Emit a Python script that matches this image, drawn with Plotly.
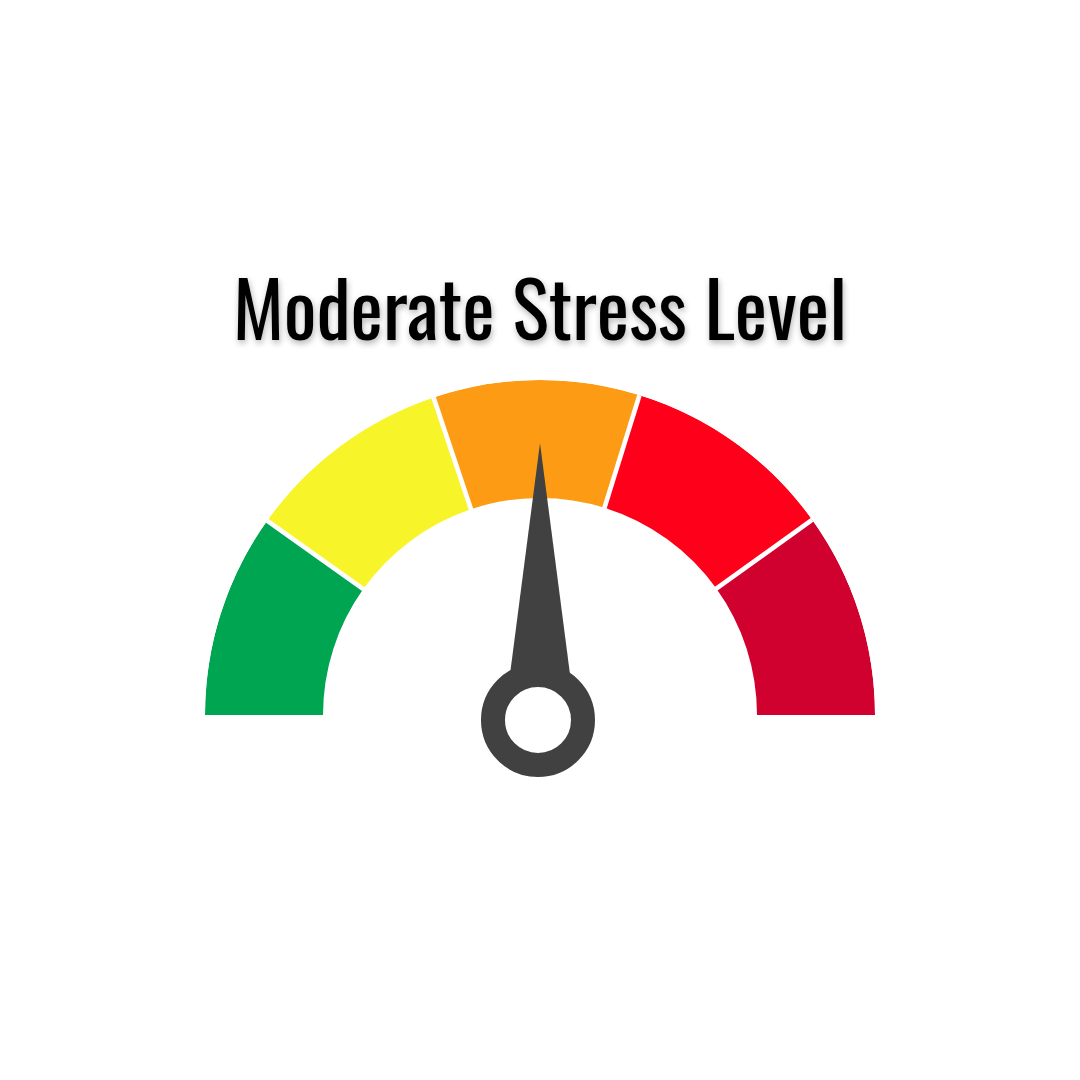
import plotly.graph_objects as go

# ---- data ----
title_text = "Moderate Stress Level"
band_names = ["Low", "Mild", "Moderate", "High", "Severe"]
band_starts = [0, 19.7, 39.7, 59.6, 80.2]
band_ends = [19.7, 39.7, 59.6, 80.2, 100]
band_colors = ["#00A551", "#F7F52A", "#FD9C14", "#FF001A", "#D0002F"]
needle_value = 50
gauge_min, gauge_max = 0, 100

# ---- style constants ----
W = H = 1080
R_OUT = 335          # outer radius (px = radial axis units)
R_IN = 217           # inner radius
CX, CY = 540, 715    # pivot position (px from left / top)
NEEDLE_LEN = 272
NEEDLE_BASE_R = 50
NEEDLE_HALF_ANGLE = 37
HUB_OFFSET_R, HUB_OFFSET_THETA = 5.4, 291.8   # hub sits slightly below-left of pivot
DARK = "#414141"


def to_theta(v):
    return (v - gauge_min) / (gauge_max - gauge_min) * 180.0


fig = go.Figure()

# coloured bands
fig.add_trace(go.Barpolar(
    r=[R_OUT - R_IN] * len(band_names),
    base=[R_IN] * len(band_names),
    theta=[to_theta((s + e) / 2) for s, e in zip(band_starts, band_ends)],
    width=[to_theta(e) - to_theta(s) for s, e in zip(band_starts, band_ends)],
    marker=dict(color=band_colors, line=dict(width=0)),
    text=band_names, hoverinfo="text", showlegend=False,
))

# white separators
for b in band_starts[1:]:
    fig.add_trace(go.Scatterpolar(
        r=[R_IN - 4, R_OUT + 4], theta=[to_theta(b), to_theta(b)],
        mode="lines", line=dict(color="white", width=4.6),
        hoverinfo="skip", showlegend=False,
    ))

# needle
vt = to_theta(needle_value)
fig.add_trace(go.Scatterpolar(
    r=[NEEDLE_BASE_R, NEEDLE_LEN, NEEDLE_BASE_R, NEEDLE_BASE_R],
    theta=[vt - NEEDLE_HALF_ANGLE, vt, vt + NEEDLE_HALF_ANGLE, vt - NEEDLE_HALF_ANGLE],
    mode="lines", fill="toself", fillcolor=DARK,
    line=dict(color=DARK, width=0),
    hoverinfo="skip", showlegend=False,
))

# hub
fig.add_trace(go.Scatterpolar(
    r=[HUB_OFFSET_R], theta=[HUB_OFFSET_THETA], mode="markers",
    marker=dict(size=90, color="white", line=dict(color=DARK, width=24), symbol="circle"),
    cliponaxis=False, hoverinfo="skip", showlegend=False,
))

fig.update_layout(
    width=W, height=H,
    margin=dict(l=0, r=0, t=0, b=0),
    paper_bgcolor="white", plot_bgcolor="white", showlegend=False,
    polar=dict(
        domain=dict(x=[(CX - R_OUT) / W, (CX + R_OUT) / W],
                    y=[(H - CY - R_OUT) / H, (H - CY + R_OUT) / H]),
        sector=[0, 360], hole=0, bgcolor="rgba(0,0,0,0)",
        radialaxis=dict(range=[0, R_OUT], visible=False, showgrid=False, showline=False, ticks=""),
        angularaxis=dict(visible=False, rotation=180, direction="clockwise",
                         showgrid=False, showline=False, ticks=""),
    ),
    annotations=[dict(
        text=title_text, x=0.5, y=1 - 305 / H, xref="paper", yref="paper",
        xanchor="center", yanchor="middle", showarrow=False,
        font=dict(family="Oswald, 'Liberation Sans Narrow', 'DejaVu Sans Condensed', sans-serif",
                  size=77, color="black", shadow="1px 3px 6px rgba(0,0,0,0.3)"),
    )],
)

fig.write_html("out.html")
